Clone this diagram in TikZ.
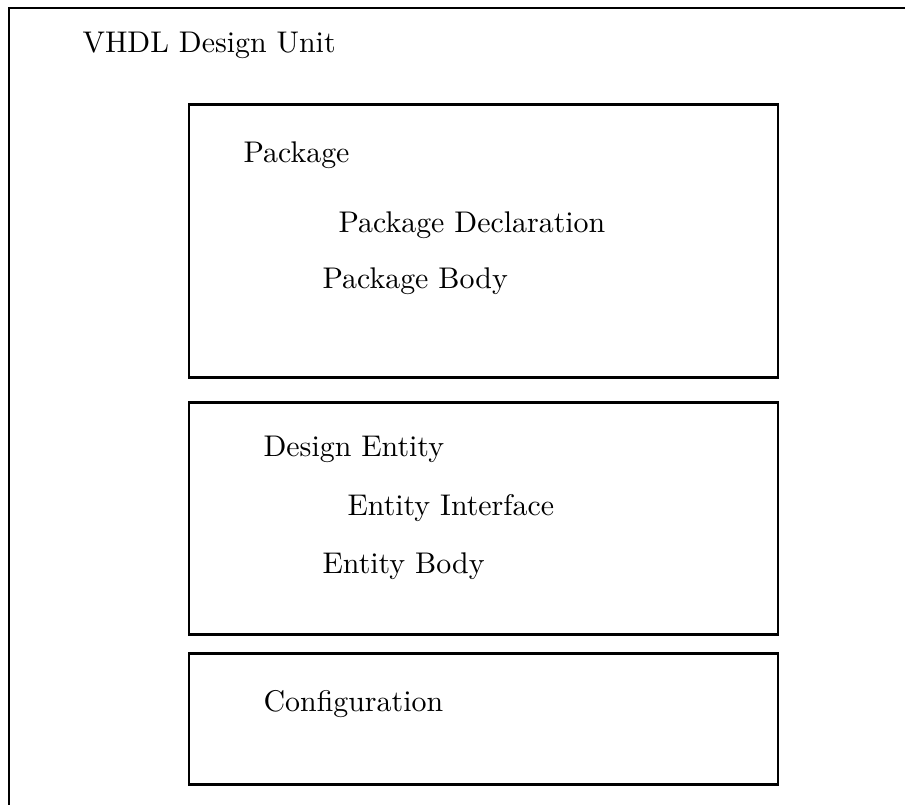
\documentclass[tikz,border=0pt]{standalone}
\begin{document}
\begin{tikzpicture}[x=1pt,y=-1pt,
  frame/.style={draw=black,line width=2.6pt},
  unitbox/.style={draw=black,line width=2.8pt},
  lbl/.style={anchor=base west,inner sep=0pt,font=\fontsize{10}{12}\selectfont,scale=2.99}]
\useasboundingbox (0,0) rectangle (905,804);
% outer frame (left and top only)
\coordinate (fbl) at (9,806);
\coordinate (ftl) at (9,8);
\coordinate (ftr) at (907,8);
\draw[frame,line join=miter] (fbl) -- (ftl) -- (ftr);
\node[lbl] (vhdl) at (82,52) {VHDL Design Unit};
% package box
\node[unitbox,minimum width=589pt,minimum height=273pt,anchor=north west,inner sep=0pt] (pkg) at (187.5,103) {};
\node[lbl] (pkgt) at (243,162) {Package};
\node[lbl] (pkgd) at (338,232) {Package Declaration};
\node[lbl] (pkgb) at (322,288) {Package Body};
% design entity box
\node[unitbox,minimum width=589pt,minimum height=232pt,anchor=north west,inner sep=0pt] (ent) at (187.5,401) {};
\node[lbl] (entt) at (263,456) {Design Entity};
\node[lbl] (enti) at (347,515) {Entity Interface};
\node[lbl] (entb) at (322,573) {Entity Body};
% configuration box
\node[unitbox,minimum width=589pt,minimum height=131pt,anchor=north west,inner sep=0pt] (cfg) at (187.5,652) {};
\node[lbl] (cfgt) at (263,711) {Configuration};
\end{tikzpicture}
\end{document}
